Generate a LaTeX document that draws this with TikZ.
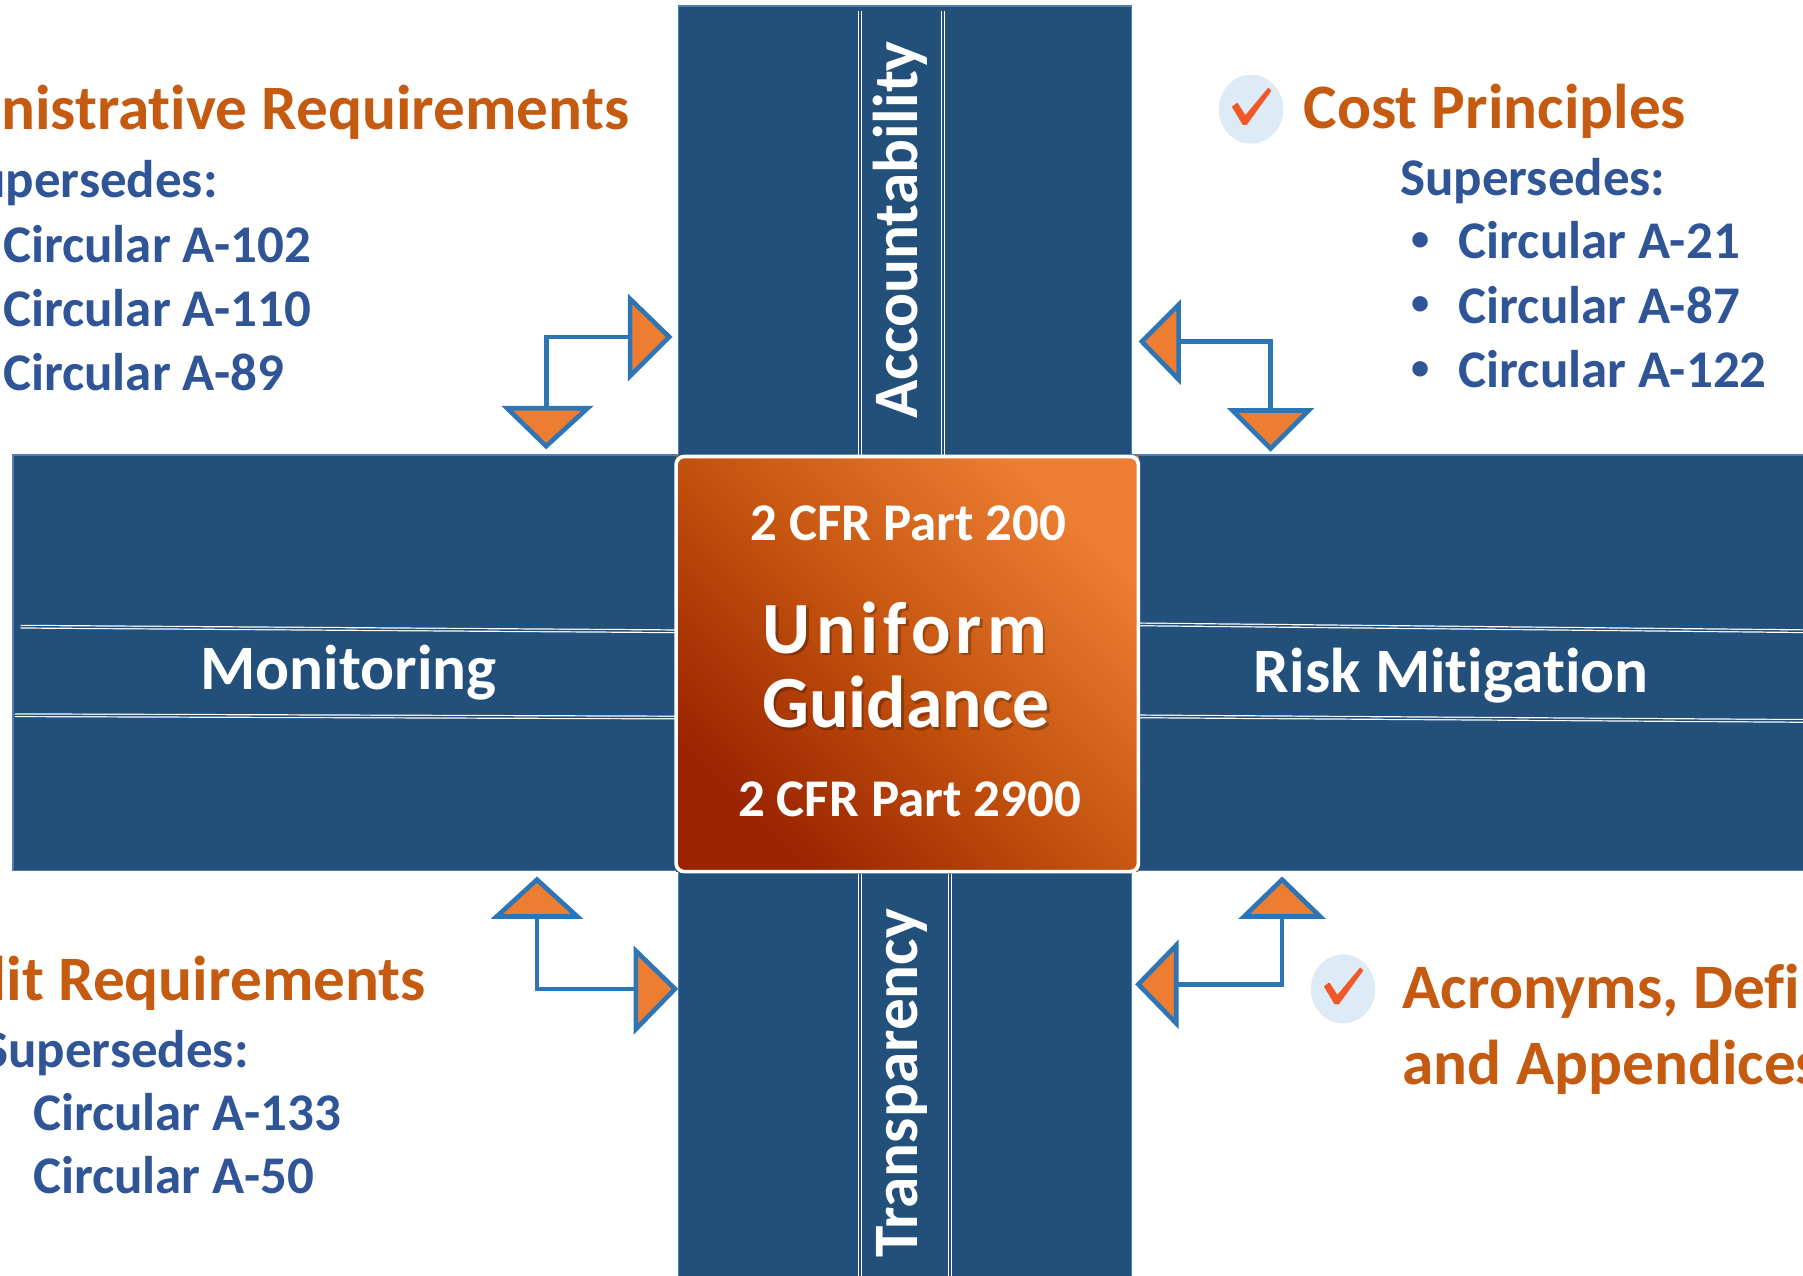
\documentclass[tikz,border=0pt]{standalone}
\usepackage{fontspec}
\setmainfont{Carlito}[Ligatures=CommonOff]
\definecolor{barblue}{HTML}{22507B}
\definecolor{baredge}{HTML}{4B7FB5}
\definecolor{headorange}{HTML}{C55A11}
\definecolor{textblue}{HTML}{2F5597}
\definecolor{arrblue}{HTML}{2E75B6}
\definecolor{arrfill}{HTML}{ED7D31}
\definecolor{sqdark}{HTML}{9A2400}
\definecolor{sqmid}{HTML}{C4540F}
\definecolor{sqlight}{HTML}{EC7E33}
\definecolor{circfill}{HTML}{DDEBF7}
\definecolor{checkred}{HTML}{F0582A}
\begin{document}
\begin{tikzpicture}[x=0.01cm,y=-0.01cm,
  bar/.style={fill=barblue, draw=baredge, line width=0.45pt},
  barline/.style={draw=white, double=barblue, double distance=0.35pt, line width=0.3pt},
  head/.style={font=\bfseries\fontsize{15.65}{18}\selectfont, text=headorange, inner sep=0pt},
  subtext/.style={font=\bfseries\fontsize{13.1}{15}\selectfont, text=textblue, inner sep=0pt},
  bullettext/.style={font=\bfseries\fontsize{9}{10}\selectfont, text=textblue, inner sep=0pt},
  barlabel/.style={font=\bfseries\fontsize{15.65}{18}\selectfont, text=white, inner sep=0pt},
  sqtext/.style={font=\bfseries\fontsize{13.1}{15}\selectfont, text=white, inner sep=0pt},
  bigtext/.style={font=\bfseries\fontsize{18.2}{20}\selectfont, inner sep=0pt},
  conn/.style={draw=arrblue, line width=1.15pt},
  headtri/.style={fill=arrfill, draw=arrblue, line width=1.15pt, line join=miter},
  checkcirc/.style={fill=circfill},
  checkmark/.style={fill=checkred, draw=checkred, line width=0.3pt, line join=round}
]
\useasboundingbox (0,0) rectangle (1568,1109);
\clip (0,0) rectangle (1568,1109);
\fill[white] (0,0) rectangle (1568,1109);

% bars
\draw[bar] (11,396) rectangle (600,757);
\draw[bar] (980,396) rectangle (1580,757);
\draw[bar] (590,5) rectangle (984,400);
\draw[bar] (590,755) rectangle (984,1120);

% bar lines
\draw[barline] (18,545) -- (588,549);
\draw[barline] (13,622) -- (588,624);
\draw[barline] (990,543) -- (1575,549);
\draw[barline] (990,623) -- (1575,627);
\draw[barline] (748,10) -- (748,396);
\draw[barline] (820,10) -- (820,396);
\draw[barline] (748,760) -- (748,1115);
\draw[barline] (826,760) -- (826,1115);

% bar labels
\node[barlabel, anchor=base] (mon) at (303,600) {Monitoring};
\node[barlabel, anchor=base] (risk) at (1262,602) {Risk Mitigation};
\node[barlabel, anchor=base, rotate=90] (acc) at (798,200) {Accountability};
\node[barlabel, anchor=base, rotate=90] (tra) at (798,942) {Transparency};

% center square
\shade[left color=sqlight, right color=sqdark, middle color=sqmid, shading angle=-45]
  (588,397) rectangle (990,758);
\draw[white, line width=0.9pt, rounded corners=2pt] (588,397) rectangle (990,758);
\node[sqtext, anchor=base] (cfr1) at (790,470) {2 CFR Part 200};
\node[bigtext, anchor=base, text=black, opacity=0.25] at (789,570) {\addfontfeature{LetterSpace=7}Uniform};
\node[bigtext, anchor=base, text=white] (uni) at (787,568) {\addfontfeature{LetterSpace=7}Uniform};
\node[bigtext, anchor=base, text=black, opacity=0.25] at (790,635) {Guidance};
\node[bigtext, anchor=base, text=white] (gui) at (788,633) {Guidance};
\node[sqtext, anchor=base] (cfr2) at (791,710) {2 CFR Part 2900};

% top-left text
\node[head, anchor=base east] (adm) at (548,113) {Administrative Requirements};
\node[subtext, anchor=base east] (sup1) at (190,172) {Supersedes:};
\node[subtext, anchor=base west] (c102) at (2,228) {Circular A-102};
\node[subtext, anchor=base west] (c110) at (2,284) {Circular A-110};
\node[subtext, anchor=base west] (c89) at (2,340) {Circular A-89};

% bottom-left text
\node[head, anchor=base east] (aud) at (371,870) {Audit Requirements};
\node[subtext, anchor=base east] (sup2) at (217,928) {Supersedes:};
\node[subtext, anchor=base west] (c133) at (28,983) {Circular A-133};
\node[subtext, anchor=base west] (c50) at (28,1038) {Circular A-50};

% top-right text
\fill[checkcirc] (1088,95) ellipse (28 and 30);
\fill[checkmark] (1072,93) -- (1076,90) -- (1083,101) -- (1103,77) -- (1105,79) -- (1084,108) -- (1081,108) -- cycle;
\node[head, anchor=base west] (cost) at (1133,112) {Cost Principles};
\node[subtext, anchor=base west] (sup3) at (1217,170) {Supersedes:};
\node[bullettext, anchor=center] (b1) at (1235,210) {•};
\node[bullettext, anchor=center] (b2) at (1235,266) {•};
\node[bullettext, anchor=center] (b3) at (1235,322) {•};
\node[subtext, anchor=base west] (c21) at (1268,225) {Circular A-21};
\node[subtext, anchor=base west] (c87) at (1268,281) {Circular A-87};
\node[subtext, anchor=base west] (c122) at (1268,337) {Circular A-122};

% bottom-right text
\fill[checkcirc] (1168,860) ellipse (28 and 30);
\fill[checkmark] (1152,858) -- (1156,855) -- (1163,866) -- (1183,842) -- (1185,844) -- (1164,873) -- (1161,873) -- cycle;
\node[head, anchor=base west] (acr) at (1219,877) {Acronyms, Definitions,};
\node[head, anchor=base west] (app) at (1219,943) {and Appendices};

% connectors
\coordinate (tlA) at (548,293);
\coordinate (tlB) at (475,355);
\draw[conn] (tlB) |- (tlA);
\draw[headtri] (548,260) -- (582,293) -- (548,327) -- cycle;
\draw[headtri] (441,355) -- (511,355) -- (475,388) -- cycle;

\coordinate (trA) at (1025,297);
\coordinate (trB) at (1105,357);
\draw[conn] (trA) -| (trB);
\draw[headtri] (1025,265) -- (993,297) -- (1025,330) -- cycle;
\draw[headtri] (1072,357) -- (1138,357) -- (1105,390) -- cycle;

\coordinate (blA) at (467,797);
\coordinate (blB) at (553,860);
\draw[conn] (blA) |- (blB);
\draw[headtri] (432,797) -- (502,797) -- (467,765) -- cycle;
\draw[headtri] (553,827) -- (587,860) -- (553,895) -- cycle;

\coordinate (brA) at (1115,797);
\coordinate (brB) at (1023,856);
\draw[conn] (brA) |- (brB);
\draw[headtri] (1082,797) -- (1148,797) -- (1115,765) -- cycle;
\draw[headtri] (1023,822) -- (990,856) -- (1023,890) -- cycle;
\end{tikzpicture}
\end{document}
